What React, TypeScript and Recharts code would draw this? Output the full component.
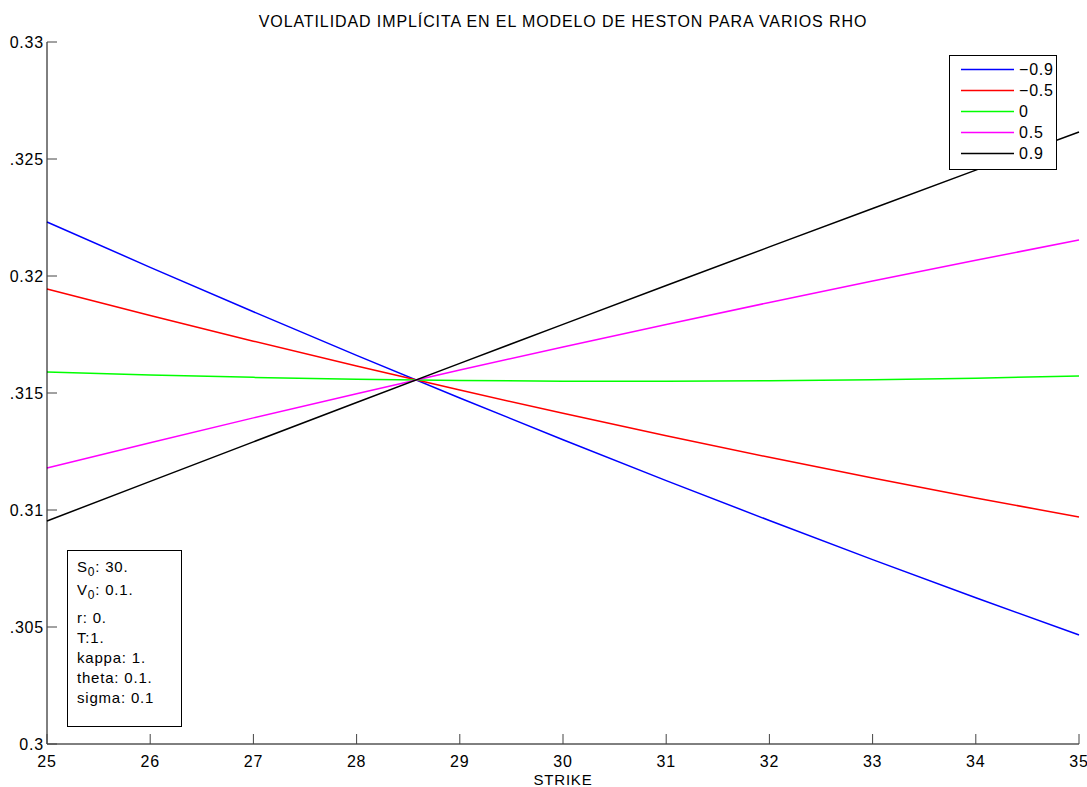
import { LineChart, Line, XAxis, YAxis } from 'recharts'

// implied vol by strike, one list per rho
const strikes = [25, 26, 27, 28, 29, 30, 31, 32, 33, 34, 35]
const volRhoM09 = [0.32231, 0.320371, 0.318471, 0.31661, 0.314787, 0.313002, 0.311257, 0.30955, 0.307881, 0.306251, 0.30466]
const volRhoM05 = [0.319444, 0.318311, 0.317214, 0.316151, 0.315124, 0.314131, 0.313174, 0.312253, 0.311366, 0.310515, 0.309699]
const volRho0 = [0.315897, 0.31577, 0.315668, 0.31559, 0.315536, 0.315507, 0.315502, 0.315521, 0.315565, 0.315634, 0.315726]
const volRho05 = [0.311795, 0.312878, 0.313937, 0.314972, 0.315982, 0.316969, 0.317931, 0.318869, 0.319783, 0.320672, 0.321538]
const volRho09 = [0.30953, 0.311225, 0.312913, 0.314593, 0.316266, 0.317932, 0.319591, 0.321243, 0.322887, 0.324525, 0.326155]

const seriesKeys = ['m09', 'm05', 'z', 'p05', 'p09']
const seriesNames = ['\u22120.9', '\u22120.5', '0', '0.5', '0.9']
const seriesColors = ['#0000ff', '#ff0000', '#00ff00', '#ff00ff', '#000000']
const seriesValues = [volRhoM09, volRhoM05, volRho0, volRho05, volRho09]

const xTicks = [25, 26, 27, 28, 29, 30, 31, 32, 33, 34, 35]
const yTicks = [0.3, 0.305, 0.31, 0.315, 0.32, 0.325, 0.33]
const yTickLabels = ['0.3', '.305', '0.31', '.315', '0.32', '.325', '0.33']

const data = strikes.map((k, i) => {
  const row: Record<string, number> = { strike: k }
  seriesKeys.forEach((key, s) => { row[key] = seriesValues[s][i] })
  return row
})

const FONT = '"Liberation Sans", Arial, sans-serif'
const TICK_LEN = 10
const TICK_COLOR = '#444'

const yLabel = (v: number) => {
  const i = yTicks.findIndex(t => Math.abs(t - v) < 1e-9)
  return i >= 0 ? yTickLabels[i] : String(v)
}

const BottomTick = ({ x, y, payload }: any) => (
  <g>
    <line x1={x} x2={x} y1={y} y2={y - TICK_LEN} stroke={TICK_COLOR} />
    <text x={x} y={y + 17} dy="0.35em" textAnchor="middle" fill="#000" fontSize={16} letterSpacing={0.8} fontFamily={FONT}>
      {payload.value}
    </text>
  </g>
)

const TopTick = ({ x, y }: any) => (
  <line x1={x} x2={x} y1={y} y2={y + TICK_LEN} stroke={TICK_COLOR} />
)

const LeftTick = ({ x, y, payload }: any) => (
  <g>
    <line x1={x} x2={x + TICK_LEN} y1={y} y2={y} stroke={TICK_COLOR} />
    <text x={x - 3} y={y} dy="0.35em" textAnchor="end" fill="#000" fontSize={16} letterSpacing={0.8} fontFamily={FONT}>
      {yLabel(payload.value)}
    </text>
  </g>
)

const RightTick = ({ x, y }: any) => (
  <line x1={x} x2={x - TICK_LEN} y1={y} y2={y} stroke={TICK_COLOR} />
)

const textStyle = { fontFamily: FONT, fontSize: 16, letterSpacing: 0.8, color: '#000' }

export default function App() {
  return (
    <div style={{ position: 'relative', width: 1087, height: 787, overflow: 'hidden' }}>
      <style>{'body { margin: 0; }'}</style>
      <div style={{ ...textStyle, position: 'absolute', left: 47, width: 1032, top: 13, textAlign: 'center', lineHeight: '18px', letterSpacing: 0.9 }}>
        VOLATILIDAD IMPLÍCITA EN EL MODELO DE HESTON PARA VARIOS RHO
      </div>
      <LineChart width={1087} height={787} data={data} margin={{ top: 42, right: 8, bottom: 0, left: 0 }}>
        <XAxis
          dataKey="strike"
          type="number"
          domain={[25, 35]}
          ticks={xTicks}
          height={43}
          tickSize={0}
          tickMargin={0}
          tickLine={false}
          axisLine={{ stroke: '#000' }}
          tick={BottomTick}
          interval={0}
          label={{ value: 'STRIKE', position: 'insideBottom', offset: 2, fill: '#000', fontSize: 15, fontFamily: FONT, letterSpacing: 0.8 }}
        />
        <XAxis
          xAxisId="top"
          orientation="top"
          dataKey="strike"
          type="number"
          domain={[25, 35]}
          ticks={xTicks}
          height={0}
          tickSize={0}
          tickMargin={0}
          tickLine={false}
          axisLine={{ stroke: '#000' }}
          tick={TopTick}
          interval={0}
        />
        <YAxis
          type="number"
          domain={[0.3, 0.33]}
          ticks={yTicks}
          width={47}
          tickSize={0}
          tickMargin={0}
          tickLine={false}
          axisLine={{ stroke: '#000' }}
          tick={LeftTick}
          interval={0}
          allowDataOverflow
        />
        <YAxis
          yAxisId="right"
          orientation="right"
          type="number"
          domain={[0.3, 0.33]}
          ticks={yTicks}
          width={0}
          tickSize={0}
          tickMargin={0}
          tickLine={false}
          axisLine={{ stroke: '#000' }}
          tick={RightTick}
          interval={0}
        />
        {seriesKeys.map((key, s) => (
          <Line
            key={key}
            dataKey={key}
            name={seriesNames[s]}
            type="monotone"
            stroke={seriesColors[s]}
            strokeWidth={1.5}
            dot={false}
            activeDot={false}
            isAnimationActive={false}
          />
        ))}
      </LineChart>

      {/* series legend */}
      <div style={{ ...textStyle, position: 'absolute', left: 949, top: 55, width: 106, height: 110, border: '1px solid #000', background: '#fff', paddingTop: 3, boxSizing: 'content-box' }}>
        {seriesNames.map((name, s) => (
          <div key={name} style={{ display: 'flex', alignItems: 'center', height: 21 }}>
            <svg width={64} height={21} style={{ display: 'block' }}>
              <line x1={11} x2={64} y1={10.5} y2={10.5} stroke={seriesColors[s]} strokeWidth={1.5} />
            </svg>
            <span style={{ marginLeft: 5, lineHeight: '21px' }}>{name}</span>
          </div>
        ))}
      </div>

      {/* model parameters */}
      <div style={{ ...textStyle, fontSize: 15, position: 'absolute', left: 67, top: 550, width: 115, height: 177, border: '1px solid #000', background: '#fff', paddingLeft: 9, boxSizing: 'border-box', paddingTop: 6 }}>
        <div style={{ lineHeight: '20px', height: 23 }}>S<sub style={{ fontSize: 12, lineHeight: 0 }}>0</sub>: 30.</div>
        <div style={{ lineHeight: '20px', height: 28 }}>V<sub style={{ fontSize: 12, lineHeight: 0 }}>0</sub>: 0.1.</div>
        <div style={{ lineHeight: '20px' }}>r: 0.</div>
        <div style={{ lineHeight: '20px' }}>T:1.</div>
        <div style={{ lineHeight: '20px' }}>kappa: 1.</div>
        <div style={{ lineHeight: '20px' }}>theta: 0.1.</div>
        <div style={{ lineHeight: '20px' }}>sigma: 0.1</div>
      </div>
    </div>
  )
}
